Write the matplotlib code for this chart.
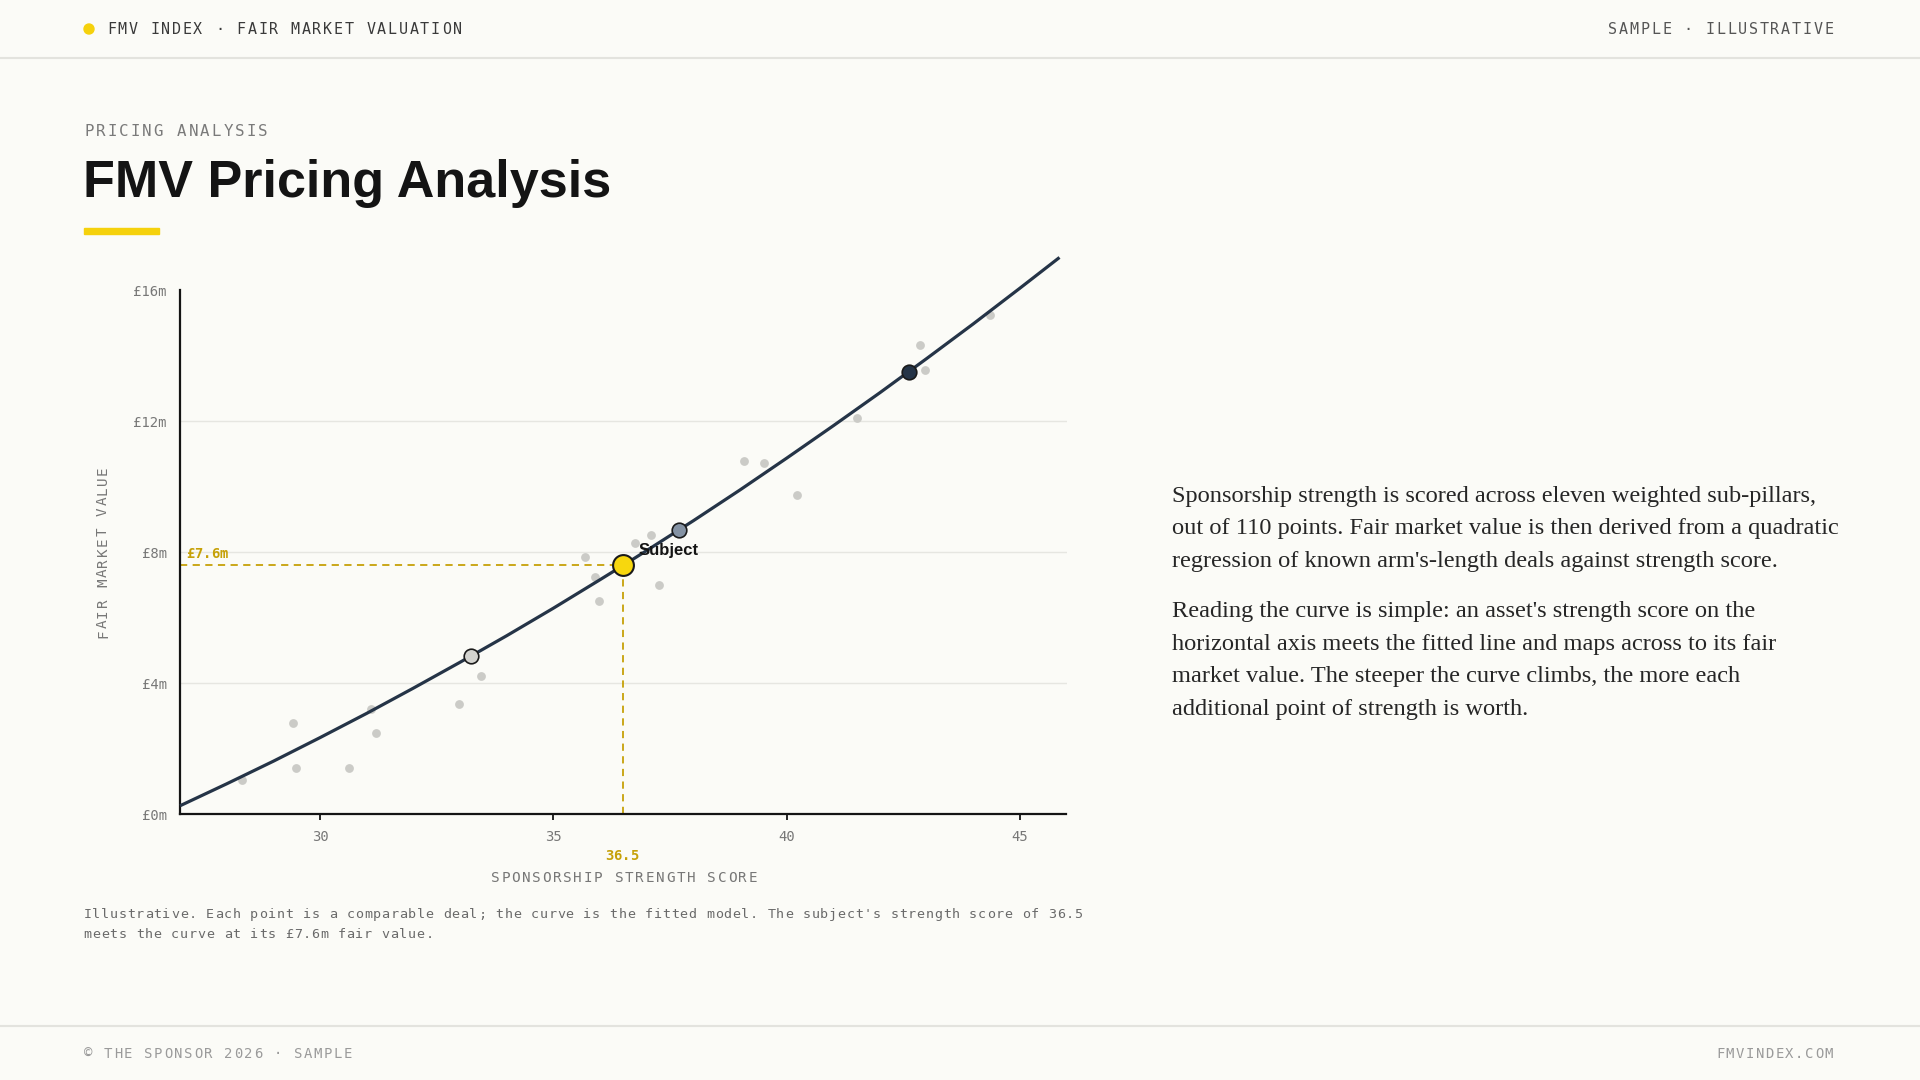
import matplotlib
matplotlib.use("Agg")
import matplotlib.pyplot as plt
from matplotlib.patches import Ellipse, Rectangle

# 可比交易散点（强度分, 公允价值 £m）
deal_score = [28.33, 29.43, 29.48, 30.62, 31.09, 31.20, 32.97, 33.45,
              35.69, 35.90, 35.99, 36.76, 37.10, 37.26,
              39.08, 39.51, 40.22, 41.52, 42.85, 42.96, 44.35]
deal_value = [1.05, 2.80, 1.40, 1.40, 3.21, 2.49, 3.38, 4.21,
              7.85, 7.24, 6.50, 8.27, 8.52, 7.01,
              10.80, 10.71, 9.76, 12.09, 14.33, 13.55, 15.25]

# 拟合曲线（从图上读出的点）
curve_score = [27, 28, 29, 30, 31, 32, 33, 34, 35, 36, 36.5, 37, 38, 39,
               40, 41, 42, 43, 44, 45, 45.85]
curve_value = [0.26, 0.93, 1.62, 2.34, 3.08, 3.85, 4.64, 5.45, 6.29, 7.16, 7.6,
               8.05, 8.96, 9.90, 10.87, 11.86, 12.87, 13.91, 14.97, 16.06, 17.0]

# 曲线上的参考点
ref_score = [33.24, 37.70, 42.63]
ref_value = [4.82, 8.67, 13.50]
ref_fill = ["#d3d3cf", "#8492a3", "#253447"]

subject_score = 36.5
subject_value = 7.6

x_ticks = [30, 35, 40, 45]
y_ticks = [0, 4, 8, 12, 16]
y_ticklabels = ["£0m", "£4m", "£8m", "£12m", "£16m"]

para_lines = [
    "Sponsorship strength is scored across eleven weighted sub-pillars,",
    "out of 110 points. Fair market value is then derived from a quadratic",
    "regression of known arm's-length deals against strength score.",
    "Reading the curve is simple: an asset's strength score on the",
    "horizontal axis meets the fitted line and maps across to its fair",
    "market value. The steeper the curve climbs, the more each",
    "additional point of strength is worth.",
]
para_y = [495, 527, 560, 610, 643, 675, 708]

caption_lines = [
    "Illustrative. Each point is a comparable deal; the curve is the fitted model. The subject's strength score of 36.5",
    "meets the curve at its £7.6m fair value.",
]

BG = "#fbfbf7"
NAVY = "#253447"
GOLD = "#c6a108"
MONO = "DejaVu Sans Mono"
W, H = 1920, 1080

fig = plt.figure(figsize=(19.2, 10.8), dpi=100, facecolor=BG)


def px(x, y):
    return x / W, 1 - y / H


def mono(x, y, s, size, pitch, color, ha="left", weight="normal", vertical=False):
    # 等宽字逐个放置，模拟字间距；y 为基线
    n = len(s)
    if ha == "left":
        start = x
    elif ha == "right":
        start = x - n * pitch
    else:
        start = x - n * pitch / 2
    for i, ch in enumerate(s):
        if ch == " ":
            continue
        if vertical:
            cx, cy = x, y + n * pitch / 2 - (i + 0.5) * pitch
            fig.text(*px(cx, cy), ch, ha="center", va="baseline", rotation=90,
                     rotation_mode="anchor", fontsize=size, color=color,
                     family=MONO, fontweight=weight)
        else:
            fig.text(*px(start + (i + 0.5) * pitch, y), ch, ha="center", va="baseline",
                     fontsize=size, color=color, family=MONO, fontweight=weight)


# 页眉
fig.patches.append(Ellipse(px(89, 29), 10 / W, 10 / H, transform=fig.transFigure,
                           color="#f5d10c", figure=fig))
mono(106, 34.5, "FMV INDEX · FAIR MARKET VALUATION", 10.8, 10.8, "#3a3a3a")
mono(1834, 34.5, "SAMPLE · ILLUSTRATIVE", 10.8, 10.8, "#555555", ha="right")
fig.add_artist(plt.Line2D([0, 1], [1 - 57.5 / H] * 2, color="#e3e3de", lw=1.5))

mono(83, 135.5, "PRICING ANALYSIS", 11.3, 11.6, "#7a7a7a")
fig.text(*px(83, 197), "FMV Pricing Analysis", fontsize=37.5, fontweight="bold",
         family="Liberation Sans", color="#141414", va="baseline")
fig.patches.append(Rectangle(px(84, 234), 75 / W, 6 / H, transform=fig.transFigure,
                             color="#f5d10c", figure=fig))

# 图表
ax = fig.add_axes([180 / W, 1 - 814.3 / H, (1066.5 - 180) / W, (814.3 - 290.2) / H])
ax.set_facecolor(BG)
ax.set_xlim(27, 46)
ax.set_ylim(0, 16)

for v in [4, 8, 12]:
    ax.axhline(v, color="#e6e6e1", lw=1, zorder=0)

ax.scatter(deal_score, deal_value, s=40, color="#cbcbc7", linewidths=0, zorder=2)
ax.plot(curve_score, curve_value, color=NAVY, lw=2.3, zorder=3, clip_on=False,
        solid_capstyle="butt")

ax.plot([27, subject_score], [subject_value, subject_value], color=GOLD, lw=1.3,
        dashes=(4, 3), zorder=2)
ax.plot([subject_score, subject_score], [0, subject_value], color=GOLD, lw=1.3,
        dashes=(4, 3), zorder=2)

for sx, sy, c in zip(ref_score, ref_value, ref_fill):
    ax.plot(sx, sy, "o", ms=10.5, mfc=c, mec="#1a1a1a", mew=1.2, zorder=4)
ax.plot(subject_score, subject_value, "o", ms=15, mfc="#f7d70e", mec="#1a1a1a",
        mew=1.5, zorder=5)
ax.text(36.83, 8.05, "Subject", fontsize=12, fontweight="bold",
        family="Liberation Sans", color="#141414", va="center", zorder=6)

for s in ["top", "right"]:
    ax.spines[s].set_visible(False)
ax.spines["left"].set_linewidth(1.6)
ax.spines["bottom"].set_linewidth(1.6)
ax.spines["left"].set_color("#141414")
ax.spines["bottom"].set_color("#141414")

ax.set_xticks(x_ticks)
ax.set_yticks(y_ticks)
ax.set_yticklabels(y_ticklabels)
ax.tick_params(axis="y", length=0, pad=9.5, labelsize=10, labelcolor="#777777")
ax.tick_params(axis="x", length=4.5, width=1.3, color="#141414", pad=6.5,
               labelsize=10, labelcolor="#777777")
for lab in ax.get_xticklabels() + ax.get_yticklabels():
    lab.set_family(MONO)

# 标注
mono(186, 558.5, "£7.6m", 10, 8.4, GOLD, weight="bold")
mono(622, 860, "36.5", 10, 8.4, GOLD, ha="center", weight="bold")
mono(624, 882.5, "SPONSORSHIP STRENGTH SCORE", 10.3, 10.3, "#777777", ha="center")
mono(107, 552, "FAIR MARKET VALUE", 10.3, 10.2, "#777777", vertical=True)

# 说明
mono(83, 918, caption_lines[0], 9.6, 8.77, "#6a6a6a")
mono(83, 938.5, caption_lines[1], 9.6, 8.77, "#6a6a6a")

# 右侧段落
for line, y in zip(para_lines, para_y):
    fig.text(*px(1172, y + 7), line, fontsize=17.6, family="Liberation Serif",
             color="#262626", va="baseline")

# 页脚
fig.add_artist(plt.Line2D([0, 1], [1 - 1025.5 / H] * 2, color="#e3e3de", lw=1.5))
mono(83, 1057.5, "© THE SPONSOR 2026 · SAMPLE", 10, 10.0, "#9a9a9a")
mono(1834, 1057.5, "FMVINDEX.COM", 10, 9.9, "#9a9a9a", ha="right")

fig.savefig("out.png", dpi=100, facecolor=BG)
